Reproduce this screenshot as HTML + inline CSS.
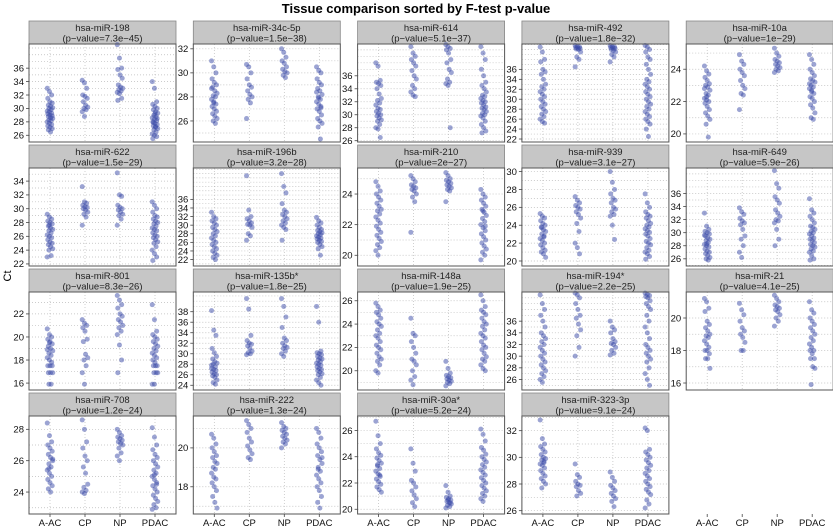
<!DOCTYPE html>
<html><head><meta charset="utf-8">
<style>
html,body{margin:0;padding:0;background:#fff;}
svg{display:block;font-family:"Liberation Sans",sans-serif;}
</style></head>
<body>
<svg id="chart" width="833" height="526" viewBox="0 0 833 526">
<text x="416" y="13" text-anchor="middle" font-size="13" font-weight="bold" fill="#000">Tissue comparison sorted by F-test p-value</text>
<text x="0" y="0" transform="translate(11,276) rotate(-90)" text-anchor="middle" font-size="11" fill="#000">Ct</text>
</svg>
<script>
const categories = ["A-AC","CP","NP","PDAC"];
const mirNames = ["hsa-miR-198","hsa-miR-34c-5p","hsa-miR-614","hsa-miR-492","hsa-miR-10a","hsa-miR-622","hsa-miR-196b","hsa-miR-210","hsa-miR-939","hsa-miR-649","hsa-miR-801","hsa-miR-135b*","hsa-miR-148a","hsa-miR-194*","hsa-miR-21","hsa-miR-708","hsa-miR-222","hsa-miR-30a*","hsa-miR-323-3p"];
const pValues = ["7.3e-45","1.5e-38","5.1e-37","1.8e-32","1e-29","1.5e-29","3.2e-28","2e-27","3.1e-27","5.9e-26","8.3e-26","1.8e-25","1.9e-25","2.2e-25","4.1e-25","1.2e-24","1.3e-24","5.2e-24","9.1e-24"];
const yMins = [25,24.25,25.8,21.4,19.5,21.7,20.5,19.3,19.44,24.9,15.4,23.1,18.35,24.2,15.57,22.6,16.6,19.64,25.75];
const yMaxs = [39.6,32.4,40.9,41.1,25.56,35.9,43.3,25.7,30.4,39.9,23.9,41.75,26.75,41,21.6,28.85,21.64,27.1,33.1];
const yTicks = [
 [26,28,30,32,34,36],[26,28,30,32],[26,28,30,32,34,36],[22,24,26,28,30,32,34,36],[20,22,24],
 [22,24,26,28,30,32,34],[22,24,26,28,30,32,34,36],[20,22,24],[20,22,24,26,28,30],[26,28,30,32,34,36],
 [16,18,20,22],[24,26,28,30,32,34,36,38],[20,22,24,26],[26,28,30,32,34,36],[16,18,20],
 [24,26,28],[18,20],[20,22,24,26],[26,28,30,32]];

const ct198 = [[33,32.5,32,31.5,31,30.8,30.5,30.3,30.1,30,29.8,29.6,29.5,29.3,29.2,29,28.9,28.8,28.6,28.5,28.3,28.2,28,27.8,27.6,27.4,27.2,27,26.8,26.5],
 [34.2,33.8,33,32,31.8,31.5,31,30.5,30.2,30,29.8,29.5,28.8],
 [39.5,37.5,36,35.8,35,34.5,33.5,33.2,33,32.8,32.6,32.4,32.2,31.5,31.2],
 [34,33,31,30.6,30.3,30,29.8,29.5,29.3,29,28.8,28.6,28.4,28.2,28,27.8,27.6,27.4,27.2,27,26.8,26.5,26.2,26,25.8,25.5,29.2,28.5,27.9,27.3]];
const ct34c = [[31,30.5,30,29.5,29.2,29,28.8,28.5,28.3,28.1,28,27.8,27.6,27.4,27.2,27,26.8,26.6,26.4,26.2,26,25.8,28.7,27.5],
 [30.7,30.5,30,29.5,29,28.8,28.5,28.2,28,27.8,27.5,26.2],
 [32,31.7,31.3,31,30.8,30.5,30.3,30.1,30,29.8,29.6],
 [30.5,30.2,30,29.5,29.2,29,28.7,28.5,28.2,28,27.8,27.6,27.4,27.2,27,26.8,26.5,26.2,26,25.8,25.5,24.5,28.4,27.9,27.1]];
const ct614 = [[38,37.5,35.3,35,34.8,34.5,34,33.2,32.5,32.2,31.8,31.5,31,30.8,30.5,30.2,30,29.8,29.5,29.2,29,28.5,28,27.8,26.5],
 [40.5,39.5,39,38.5,38,37.5,36.8,36,35.5,34.5,34,33.5,33,32.8],
 [40.8,40.5,40.2,40,39.5,38.5,38,37,36.5,35.5,35,34.8,34.5,28],
 [40.5,39.5,38.5,37,36,35,34.5,34,33.5,33,32.8,32.5,32.2,32,31.8,31.5,31.2,31,30.8,30.5,30.2,30,29.8,29.5,29,28.5,28,27.5,27.2]];
const ct492 = [[40.5,39.5,38,37.5,36,35.5,35,34,33,32.5,32,31.5,31,30.5,30,29.5,29,28.5,28,27.5,27,26.5,26,25.5,25.2],
 [40.8,40.6,40.5,40.4,40.3,40.2,40.1,40,39.5,38.5,38,36.5],
 [40.8,40.6,40.5,40.4,40.3,40.2,40,39.8,39.5,39,38.5,37.5],
 [40.8,40.5,40,39.5,38.5,38,37,36,35,34,33.5,33,32.5,32,31.5,31,30.5,30,29.5,29,28.5,28,27.5,27,26.5,26,25.5,25,24,22.5]];
const ct10a = [[24.2,23.9,23.7,23.5,23.3,23.1,23,22.9,22.7,22.5,22.4,22.2,22.1,22,21.9,21.7,21.5,21.3,21.1,20.9,20.6,19.8,22.8,22.3],
 [24.9,24.5,24.3,24,23.8,23.6,23.3,23,22.8,22.5,22.4,21.5],
 [25.3,25,24.8,24.6,24.5,24.4,24.3,24.2,24.1,24,23.9,23.8],
 [24.9,24.6,24.3,24,23.8,23.6,23.4,23.3,23.2,23,22.9,22.8,22.6,22.5,22.3,22.2,22,21.8,21.6,21.3,21,20.9,23.1,22.7]];
const ct622 = [[29.2,28.8,28.5,28.2,28,27.8,27.5,27.2,27,26.8,26.5,26.2,26,25.8,25.5,25.2,25,24.8,24.5,24.2,24,23.2,23,27.6],
 [33.2,31,30.8,30.5,30.3,30.2,30,29.8,29.5,29.2,28.8,27.6],
 [35.2,32,31.8,30.5,30.2,30,29.8,29.5,29.2,29,28.5,27.6],
 [31,30.5,30,29.5,29,28.8,28.5,28.2,28,27.8,27.5,27.2,27,26.8,26.5,26.2,26,25.8,25.5,25.2,25,24.5,24,23.5,23,22.5]];
const ct196b = [[33,32,31.5,31,30.5,30,29.5,29,28.5,28,27.5,27,26.5,26,25.5,25,24.5,24,23.5,23,22.5,22],
 [41.5,33.5,32,31.5,31,30.5,30.2,30,29.5,28,27.5,26.5],
 [42,39,37.5,35,33.5,33,32.5,32,31.5,31,30.5,30,29.5,29,26.5],
 [31.8,31,30.5,30,29.5,29,28.8,28.5,28.2,28,27.8,27.5,27.2,27,26.8,26.5,26.2,26,25.5,25,24.5,23]];
const ct210 = [[24.8,24.5,24.2,24,23.8,23.6,23.4,23.2,23,22.9,22.7,22.5,22.3,22.1,21.9,21.7,21.5,21.3,21.1,20.9,20.7,20.5,20.3,20],
 [25.2,25,24.8,24.6,24.5,24.4,24.3,24.2,24,23.8,23.5,21.5],
 [25.4,25.2,25,24.9,24.8,24.7,24.6,24.5,24.4,24.3,24.2,23.5],
 [24.3,24,23.8,23.6,23.4,23.2,23,22.8,22.6,22.4,22.2,22,21.8,21.6,21.4,21.2,21,20.8,20.6,20.4,20.2,20,19.7,22.9,21.9]];
const ct939 = [[25.3,25,24.8,24.5,24.2,24,23.8,23.5,23.3,23,22.8,22.5,22.3,22,21.8,21.5,21.2,21,20.8,20.4,23.7,22.7],
 [27.2,26.8,26.5,26.2,26,25.8,25.5,25.2,24.8,24.2,23.3,22,21.5,20.8],
 [30,28.8,28,27.5,27,26.8,26.5,26,25.8,25.5,25.2,25,24,22.4],
 [27.5,26.5,26,25.5,25.2,25,24.8,24.5,24.2,24,23.8,23.6,23.4,23.2,23,22.8,22.5,22.2,22,21.8,21.5,21.2,21,20.8,20.5,20.2]];
const ct649 = [[33,31,30.5,30.2,30,29.8,29.5,29.2,29,28.8,28.5,28.2,28,27.8,27.5,27.2,27,26.8,26.5,26.2,26,25.8,29.6,28.3],
 [33.8,33.2,32.8,32.2,31.8,31.5,31.2,30.5,29.5,29,28,27,26.2],
 [39.5,37.5,36.8,35.5,35,34.5,33.5,33,32.5,32,31.8,31.5,30.5,29,28],
 [35.2,33.5,33,32.5,32,31.5,31,30.8,30.5,30.2,30,29.8,29.5,29.2,29,28.8,28.5,28.2,28,27.8,27.5,27.2,27,26.5,26,25.8]];
const ct801 = [[20.7,20.2,20,19.8,19.6,19.4,19.2,19,18.8,18.6,18.4,18.2,18,17.8,17.5,17.5,17.5,16.9,16.9,16.9,15.9,15.9,18.9,19.5],
 [21.5,21.2,21,20.8,20.5,19.8,19.6,18.5,18.2,18,17.5,16.9,15.9],
 [23.6,23.2,22.8,22.5,22,21.8,21.5,21.3,21,20.8,20.5,20.2,19.3,18,16.9],
 [22.8,21.5,20.5,20.2,20,19.8,19.6,19.4,19.2,19,18.8,18.6,18.4,18.2,18,17.8,17.5,17.5,17.5,16.9,16.9,16.9,15.9,15.9]];
const ct135b = [[38.2,34.5,33.5,31,30.2,29.5,29,28.5,28.2,28,27.5,27.2,27,26.8,26.5,26.2,26,25.8,25.5,25,24.5,24.2,27.8],
 [40.5,38.5,33.5,32.5,32,31.8,31.5,31,30.5,30.2,30,29.8],
 [40.5,39,37,35,33,32.5,32,31.5,31.2,31,30.5,30,29.5],
 [39,36,30.5,30.2,30,29.8,29.5,29.2,29,28.8,28.5,28.2,28,27.8,27.5,27.2,27,26.8,26.5,26.2,26,25.5,25,24.5,24]];
const ct148a = [[25.8,25.5,25.2,25,24.8,24.5,24.2,24,23.8,23.5,23.2,23,22.8,22.5,22.2,22,21.8,21.5,21.2,21,20.8,20.5,20,19.8],
 [24.5,23.2,23,22.5,22,21.5,21,20.8,20.5,20,19.5,19.2,18.8],
 [20.8,20.2,19.8,19.6,19.5,19.4,19.3,19.2,19.1,19,18.9,18.7],
 [26.5,26,25.5,25.2,25,24.8,24.5,24.2,24,23.8,23.5,23.2,23,22.8,22.5,22.2,22,21.8,21.5,21.2,21,20.8,20.5,20.2,20]];
const ct194 = [[40.5,39,38,37,36,35,34,33.5,33,32.5,32,31.5,31,30.5,30,29.5,29,28.5,28,27.5,27,26.5,26,25.5],
 [40.8,40.5,40,39,38,37,36.5,35.5,34.5,33.5,31.5,30],
 [36,35,34.5,34,33,32.5,32.2,32,31.5,31,30.5,30.2],
 [40.8,40.6,40.4,40.2,40,39.5,39,38.5,38,37,36,35,34,33,32,31.5,31,30.5,30,29.5,29,28,27,26,25]];
const ct21 = [[21.2,21,20.6,20.4,19.8,19.6,19.4,19.2,19,18.9,18.8,18.6,18.4,18.2,18,18,17.8,17.5,17.5,16.9],
 [20.9,20.5,20.2,19.8,19.4,19.2,19,18.8,18.5,18,18],
 [21.4,21.2,21,20.8,20.7,20.6,20.5,20.4,20.2,20,19.8,19.5],
 [21,20.5,20.3,20,19.8,19.6,19.4,19.2,19,18.8,18.6,18.4,18.2,18,18,17.8,17.5,17.5,17,16.9,15.9]];
const ct708 = [[28.4,27.6,27.2,27,26.8,26.6,26.4,26.2,26,25.8,25.6,25.4,25.2,25,24.8,24.6,24.4,24.2,24,26.1,25.5],
 [28.6,28,27.2,26.8,26.3,26,25.6,25.2,24.5,24.3,24.1,24,23.9],
 [28,27.8,27.6,27.5,27.4,27.3,27.2,27.1,27,26.8,26.5,26.3,26],
 [28.1,27.5,27,26.7,26.4,26.2,26,25.8,25.6,25.4,25.2,25,24.8,24.6,24.4,24.2,24,23.8,23.6,23.4,23.2,23,22.9,25.1,24.5]];
const ct222 = [[20.7,20.5,20.2,20,19.8,19.6,19.5,19.3,19.2,19,18.9,18.7,18.5,18.4,18.2,18,17.8,17.5,17.2,16.9],
 [21.4,21.2,21,20.8,20.5,20.3,20.1,19.9,19.7,19.5,19.4],
 [21.3,21.1,21,20.9,20.8,20.7,20.6,20.5,20.4,20.3,20.2,20],
 [21,20.8,20.5,20.2,20,19.8,19.6,19.4,19.2,19,18.8,18.6,18.4,18.2,18,17.8,17.5,17.2,16.9,19.5,18.9]];
const ct30a = [[26.7,25.6,25,24.6,24.3,24.1,23.9,23.7,23.5,23.3,23.1,22.9,22.7,22.5,22.3,22.1,21.9,21.7,21.5,21.3,23.4,22.6],
 [24.6,23.5,22.9,22.2,22,21.7,21.4,21.1,20.8,20.5,20.2],
 [21.8,21.3,21,20.9,20.8,20.7,20.6,20.5,20.4,20.3,20.2,20.1,20.7,20.5],
 [26.1,25.7,25.2,24.7,24.5,24.2,24,23.8,23.6,23.4,23.2,23,22.8,22.6,22.4,22.2,22,21.8,21.6,21.4,21.2,21,20.8,20.6]];
const ct323 = [[32.8,31.4,31,30.8,30.6,30.4,30.2,30,29.9,29.8,29.6,29.5,29.4,29.2,29,28.8,28.6,28.4,28.2,28,27.7,29.7],
 [29.5,28.7,28.5,28.2,28,27.9,27.8,27.5,27.3,27.1],
 [28.9,28.5,28.2,27.9,27.7,27.5,27.3,27.1,26.9,26.7,26.3],
 [32.2,32,30.6,30.4,30.2,30,29.8,29.6,29.4,29.2,29,28.8,28.6,28.4,28.2,28,27.8,27.6,27.4,27.2,26.8,26.5,26.2]];
const panelData = [ct198,ct34c,ct614,ct492,ct10a,ct622,ct196b,ct210,ct939,ct649,ct801,ct135b,ct148a,ct194,ct21,ct708,ct222,ct30a,ct323];

const NS = "http://www.w3.org/2000/svg";
const svg = document.getElementById("chart");
const L0 = 29, COLW = 164.3, W = 147, T0 = 21, ROWH = 124, SH = 23, PH = 98;
function mk(tag, attrs, parent) {
  const e = document.createElementNS(NS, tag);
  for (const k in attrs) e.setAttribute(k, attrs[k]);
  (parent || svg).appendChild(e);
  return e;
}
function xScale(left, ci) { return left + (ci + 0.6) / 4.2 * W; }

function drawXAxis(g, left, bottom) {
  categories.forEach((c, ci) => {
    const x = xScale(left, ci);
    const tk = mk("line", {x1: x, x2: x, y1: bottom, y2: bottom + 3, stroke: "#444", "stroke-width": 0.8}, g);
    
    
    const t = mk("text", {x: x, y: bottom + 12, "text-anchor": "middle", "font-size": 9.5, fill: "#111"}, g);
    
    
    t.textContent = c;
  });
}

panelData.forEach((groups, p) => {
  const col = p % 5, row = Math.floor(p / 5);
  const left = L0 + col * COLW;
  const top = T0 + row * ROWH;
  const pt = top + SH, pb = pt + PH;
  const y0 = yMins[p], y1 = yMaxs[p];
  const yS = v => pb - (v - y0) / (y1 - y0) * PH;
  const g = mk("g", {});
  
  

  const strip = mk("rect", {x: left, y: top, width: W, height: SH, fill: "#c6c6c6", stroke: "#888", "stroke-width": 0.8}, g);
  
  
  const t1 = mk("text", {x: left + W / 2, y: top + 10, "text-anchor": "middle", "font-size": 9.5, fill: "#222"}, g);
  
  
  t1.textContent = mirNames[p];
  const t2 = mk("text", {x: left + W / 2, y: top + 20.5, "text-anchor": "middle", "font-size": 9.5, fill: "#222"}, g);
  
  
  t2.textContent = "(p\u2212value=" + pValues[p].replace(/-/g, "\u2212") + ")";

  // gridlines
  for (let v = Math.ceil(y0); v <= y1; v++) {
    const gl = mk("line", {x1: left, x2: left + W, y1: yS(v), y2: yS(v), stroke: "#bbb", "stroke-width": 0.7, "stroke-dasharray": "1,2"}, g);
    
    
  }
  categories.forEach((c, ci) => {
    const x = xScale(left, ci);
    const gl = mk("line", {x1: x, x2: x, y1: pt, y2: pb, stroke: "#bbb", "stroke-width": 0.7, "stroke-dasharray": "1,2"}, g);
    
    
  });

  // points
  groups.forEach((vals, ci) => {
    const cx = xScale(left, ci);
    vals.forEach((v, i) => {
      const jit = (((i * 37) % 11) - 5) * 0.55;
      const c = mk("circle", {cx: cx + jit, cy: yS(v), r: 2.5, fill: "#3a4aa8", "fill-opacity": 0.5}, g);
      
      
    });
  });

  const frame = mk("rect", {x: left, y: pt, width: W, height: PH, fill: "none", stroke: "#555", "stroke-width": 1}, g);
  
  

  yTicks[p].forEach(v => {
    const y = yS(v);
    const tk = mk("line", {x1: left - 3, x2: left, y1: y, y2: y, stroke: "#444", "stroke-width": 0.8}, g);
    
    
    const tl = mk("text", {x: left - 5, y: y + 3.3, "text-anchor": "end", "font-size": 9.5, fill: "#111"}, g);
    
    
    tl.textContent = v;
  });

  if (row === 3) drawXAxis(g, left, pb);
});
// empty 20th panel: only x axis labels
const eg = mk("g", {});


drawXAxis(eg, L0 + 4 * COLW, T0 + 3 * ROWH + SH + PH);
</script>
</body></html>
